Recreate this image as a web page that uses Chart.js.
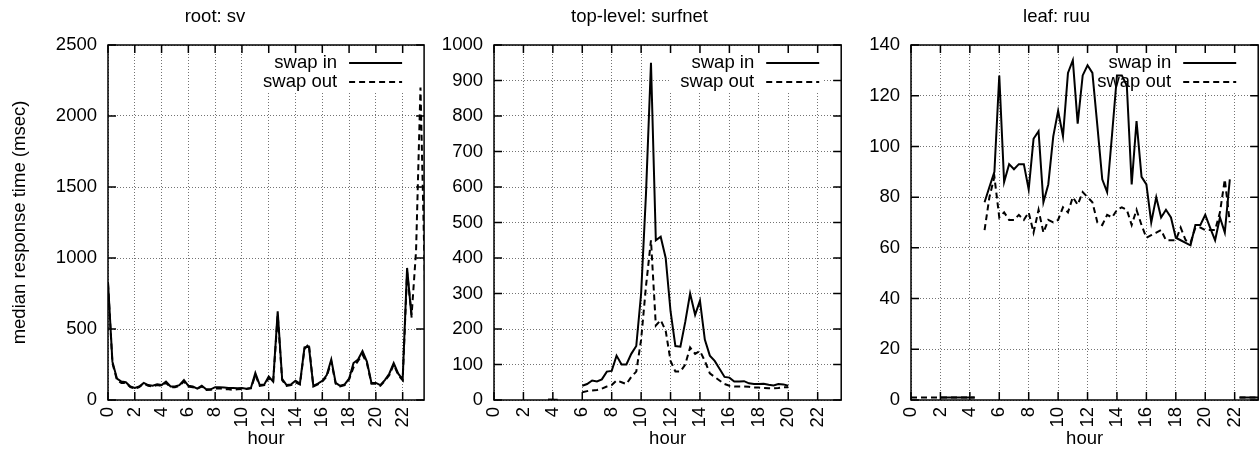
<!DOCTYPE html>
<html>
<head>
<meta charset="utf-8">
<script src="https://cdn.jsdelivr.net/npm/chart.js@4.4.0/dist/chart.umd.min.js"></script>
<style>
html, body { margin: 0; padding: 0; background: #fff; overflow: hidden; width: 1260px; height: 450px; }
.panel { position: absolute; top: 0; height: 450px; }
</style>
</head>
<body>
<div class="panel" style="left:0;width:432px"><canvas id="grafico1"></canvas></div>
<div class="panel" style="left:434px;width:413px"><canvas id="grafico2"></canvas></div>
<div class="panel" style="left:851px;width:413px"><canvas id="grafico3"></canvas></div>
<script>
// hora del dia, una medicion cada 20 minutos
const horas = [0, 0.33, 0.67, 1, 1.33, 1.67, 2, 2.33, 2.67, 3, 3.33, 3.67,
  4, 4.33, 4.67, 5, 5.33, 5.67, 6, 6.33, 6.67, 7, 7.33, 7.67,
  8, 8.33, 8.67, 9, 9.33, 9.67, 10, 10.33, 10.67, 11, 11.33, 11.67,
  12, 12.33, 12.67, 13, 13.33, 13.67, 14, 14.33, 14.67, 15, 15.33, 15.67,
  16, 16.33, 16.67, 17, 17.33, 17.67, 18, 18.33, 18.67, 19, 19.33, 19.67,
  20, 20.33, 20.67, 21, 21.33, 21.67, 22, 22.33, 22.67, 23, 23.33, 23.67]

const etiquetas = ['swap in', 'swap out']
const titulos = ['root: sv', 'top-level: surfnet', 'leaf: ruu']

// root: sv
const rootIn = [830, 270, 150, 130, 125, 95, 85, 95, 120, 105, 100, 110,
  105, 130, 95, 95, 105, 140, 100, 95, 80, 100, 75, 75,
  90, 90, 88, 85, 85, 82, 85, 80, 85, 190, 105, 110,
  165, 130, 625, 150, 105, 110, 135, 115, 370, 375, 100, 115,
  135, 175, 285, 120, 100, 110, 150, 260, 285, 345, 270, 120,
  120, 105, 140, 185, 260, 185, 145, 930, 580, null, null, null]
const rootOut = [820, 260, 140, 120, 120, 90, 80, 90, 115, 100, 95, 105,
  100, 120, 90, 90, 100, 130, 95, 90, 80, 95, 70, 72,
  80, 82, 75, 75, 72, 75, 78, 78, 82, 175, 100, 105,
  155, 125, 600, 140, 100, 105, 125, 110, 360, 395, 95, 110,
  130, 165, 270, 115, 95, 105, 145, 230, 275, 320, 260, 115,
  115, 100, 135, 175, 250, 175, 140, 900, 600, 1050, 2200, 800]

// top-level: surfnet
const topIn = [null, null, null, null, null, null, null, null, null, null, null, 1,
  1, 1, null, null, null, null, 40, 45, 55, 52, 58, 80,
  82, 125, 100, 100, 130, 152, 300, 580, 950, 450, 460, 400,
  250, 152, 150, 220, 300, 240, 280, 170, 125, 110, 88, 65,
  63, 52, 52, 53, 47, 45, 45, 46, 43, 41, 45, 44,
  40, null, null, null, null, null, null, null, null, null, null, null]
const topOut = [null, null, null, null, null, null, null, null, null, null, null, 1,
  1, 1, null, null, null, null, 22, 25, 27, 28, 32, 38,
  42, 55, 50, 45, 65, 80, 170, 320, 450, 210, 225, 195,
  110, 80, 80, 100, 148, 130, 138, 110, 75, 65, 55, 45,
  40, 38, 38, 38, 37, 35, 35, 34, 33, 33, 34, 36,
  36, null, null, null, null, null, null, null, null, null, null, null]

// leaf: ruu
const leafIn = [null, null, null, null, null, null, 1, 1, 1, 1, 1, 1,
  1, 1, null, 78, 84, 90, 128, 86, 93, 91, 93, 93,
  83, 103, 106, 78, 85, 104, 114, 104, 129, 134, 109, 128,
  132, 129, 108, 87, 82, 105, 128, 128, 124, 85, 110, 88,
  85, 70, 80, 72, 75, 72, 64, 63, 62, 61, 69, 69,
  73, 68, 63, 72, 66, 87, null, 1, 1, 1, 1, 1]
const leafOut = [1, 1, 1, 1, 1, 1, 1, 1, 1, 1, 1, 1,
  1, 1, null, 67, 80, 88, 72, 74, 71, 71, 73, 71,
  74, 66, 75, 66, 71, 70, 71, 76, 74, 80, 77, 82,
  80, 78, 70, 69, 73, 72, 75, 76, 75, 69, 75, 69,
  64, 65, 66, 67, 63, 63, 63, 68, 63, 62, 68, 68,
  67, 67, 67, 74, 87, 70, null, 1, 1, 1, 1, 1]

const ticksHora = [0, 2, 4, 6, 8, 10, 12, 14, 16, 18, 20, 22]

const fuente = '"Liberation Sans", Arial, Helvetica, sans-serif'
const tam = 18.5
Chart.defaults.font.family = fuente
Chart.defaults.color = '#000'

// la clave va dentro del grafico, arriba a la derecha, con fondo blanco
const clave = {
  id: 'clave',
  beforeDatasetsDraw(chart) {
    const { ctx, chartArea: a } = chart
    ctx.save()
    ctx.fillStyle = '#fff'
    ctx.fillRect(a.right - 172, a.top + 2, 154, 46)
    ctx.font = tam + 'px ' + fuente
    ctx.textAlign = 'right'
    ctx.textBaseline = 'middle'
    chart.data.datasets.forEach((ds, i) => {
      const y = a.top + 18 + i * 19
      ctx.fillStyle = '#000'
      ctx.fillText(ds.label, a.right - 87, y)
      ctx.strokeStyle = '#000'
      ctx.lineWidth = 2
      ctx.setLineDash(ds.borderDash || [])
      ctx.beginPath()
      ctx.moveTo(a.right - 75, y)
      ctx.lineTo(a.right - 22, y)
      ctx.stroke()
    })
    ctx.restore()
  }
}

// marco y marcas hacia adentro, estilo gnuplot
const marco = {
  id: 'marco',
  beforeDatasetsDraw(chart) {
    const { ctx, chartArea: a, scales } = chart
    ctx.save()
    ctx.strokeStyle = '#000'
    ctx.lineWidth = 1.5
    ctx.strokeRect(a.left, a.top, a.right - a.left, a.bottom - a.top)
    ctx.beginPath()
    scales.x.ticks.forEach(t => {
      const px = scales.x.getPixelForValue(t.value)
      ctx.moveTo(px, a.bottom); ctx.lineTo(px, a.bottom - 8)
      ctx.moveTo(px, a.top); ctx.lineTo(px, a.top + 8)
    })
    scales.y.ticks.forEach(t => {
      const py = scales.y.getPixelForValue(t.value)
      ctx.moveTo(a.left, py); ctx.lineTo(a.left + 8, py)
      ctx.moveTo(a.right, py); ctx.lineTo(a.right - 8, py)
    })
    ctx.stroke()
    ctx.restore()
  }
}

function puntos(serie) {
  return horas.map((h, i) => ({ x: h, y: serie[i] }))
}

function dibujaPanel(id, titulo, serieIn, serieOut, yMax, yPaso, anchoY, conTituloY) {
  const canvas = document.getElementById(id)
  return new Chart(canvas, {
    type: 'line',
    data: {
      datasets: [
        { label: etiquetas[0], data: puntos(serieIn), borderColor: '#000', borderWidth: 2,
          pointRadius: 0, tension: 0, spanGaps: false, fill: false },
        { label: etiquetas[1], data: puntos(serieOut), borderColor: '#000', borderWidth: 2,
          borderDash: [6, 4], pointRadius: 0, tension: 0, spanGaps: false, fill: false }
      ]
    },
    options: {
      responsive: true,
      maintainAspectRatio: false,
      animation: false,
      events: [],
      layout: { padding: { left: 0, right: 2, top: 0, bottom: 0 } },
      plugins: {
        legend: { display: false },
        tooltip: { enabled: false },
        title: {
          display: true, text: titulo, color: '#000',
          font: { size: tam, weight: 'normal' },
          padding: { top: 6, bottom: 16.8 }
        }
      },
      scales: {
        x: {
          type: 'linear', min: 0, max: 23.6,
          afterBuildTicks: s => { s.ticks = ticksHora.map(v => ({ value: v })) },
          afterFit: s => { s.height = 50 },
          ticks: { autoSkip: false, includeBounds: false, maxRotation: 90, minRotation: 90,
                   padding: 7, color: '#000', font: { size: tam }, callback: v => String(v) },
          grid: { color: 'rgba(0,0,0,0.55)', lineWidth: 1, drawTicks: false },
          border: { display: false, dash: [1, 2] },
          title: { display: true, text: 'hour', color: '#000', font: { size: tam },
                   padding: { top: 0, bottom: 0 } }
        },
        y: {
          min: 0, max: yMax,
          afterFit: s => { s.width = anchoY },
          ticks: { stepSize: yPaso, padding: 11, color: '#000', font: { size: tam },
                   callback: v => String(v) },
          grid: { color: 'rgba(0,0,0,0.55)', lineWidth: 1, drawTicks: false },
          border: { display: false, dash: [1, 2] },
          title: { display: conTituloY, text: 'median response time (msec)', color: '#000',
                   font: { size: tam }, padding: { top: 9, bottom: 0 } }
        }
      }
    },
    plugins: [clave, marco]
  })
}

dibujaPanel('grafico1', titulos[0], rootIn, rootOut, 2500, 500, 108, true)
dibujaPanel('grafico2', titulos[1], topIn, topOut, 1000, 100, 60, false)
dibujaPanel('grafico3', titulos[2], leafIn, leafOut, 140, 20, 60, false)
</script>
</body>
</html>
